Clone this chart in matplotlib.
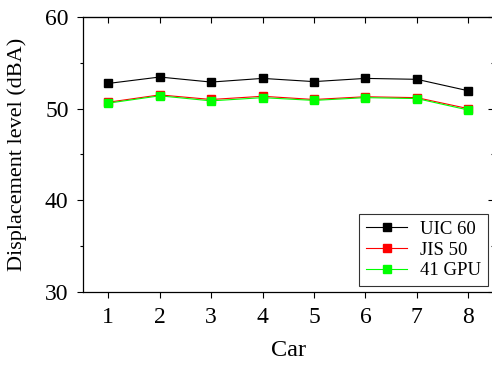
import numpy as np
import matplotlib
matplotlib.use("Agg")
import matplotlib.pyplot as plt
from matplotlib.ticker import MultipleLocator

plt.rcParams['font.family'] = ['Liberation Serif', 'DejaVu Serif']

cars = [1, 2, 3, 4, 5, 6, 7, 8]
uic60 = [52.75, 53.45, 52.9, 53.3, 52.95, 53.3, 53.2, 51.95]
jis50 = [50.7, 51.5, 51.0, 51.35, 51.0, 51.3, 51.2, 50.0]
gpu41 = [50.6, 51.4, 50.85, 51.2, 50.9, 51.2, 51.1, 49.85]

fig = plt.figure(figsize=(4.92, 3.66), dpi=100)
ax = fig.add_axes([0.1677, 0.2022, 0.8364, 0.7514])

ax.plot(cars, uic60, color='black', lw=0.8, marker='s', ms=5.5, label='UIC 60')
ax.plot(cars, jis50, color='red', lw=0.8, marker='s', ms=5.5, label='JIS 50')
ax.plot(cars, gpu41, color='lime', lw=0.8, marker='s', ms=5.5, label='41 GPU')

ax.set_xlim(0.5, 8.5)
ax.set_ylim(30, 60)
ax.set_xticks(cars)
ax.yaxis.set_major_locator(MultipleLocator(10))
ax.yaxis.set_minor_locator(MultipleLocator(5))

ax.tick_params(axis='both', which='both', direction='out', labelsize=17, width=0.8)
ax.tick_params(which='major', length=4)
ax.tick_params(which='minor', length=2.5)
ax.tick_params(axis='x', pad=6.5)
ax.tick_params(axis='y', pad=6)
# mirrored ticks on top/right point inward
ax2 = ax.secondary_xaxis('top')
ax2.set_xticks(cars)
ax2.tick_params(direction='in', length=4, width=0.8, labeltop=False)
ax3 = ax.secondary_yaxis('right')
ax3.yaxis.set_major_locator(MultipleLocator(10))
ax3.yaxis.set_minor_locator(MultipleLocator(5))
ax3.tick_params(which='both', direction='in', width=0.8, labelright=False)
ax3.tick_params(which='major', length=4)
ax3.tick_params(which='minor', length=2.5)

for s in ax.spines.values():
    s.set_linewidth(0.9)

ax.set_xlabel('Car', fontsize=17.5, labelpad=9)
ax.set_ylabel('Displacement level (dBA)', fontsize=16, labelpad=13)

leg = ax.legend(loc='lower right', bbox_to_anchor=(0.9854, 0.0218), borderaxespad=0,
                fontsize=13.5, frameon=True, fancybox=False, edgecolor='black',
                handlelength=2.2, borderpad=0.35, labelspacing=0.2, handletextpad=0.7)
leg.get_frame().set_linewidth(0.8)

fig.savefig('out.png', dpi=100)
